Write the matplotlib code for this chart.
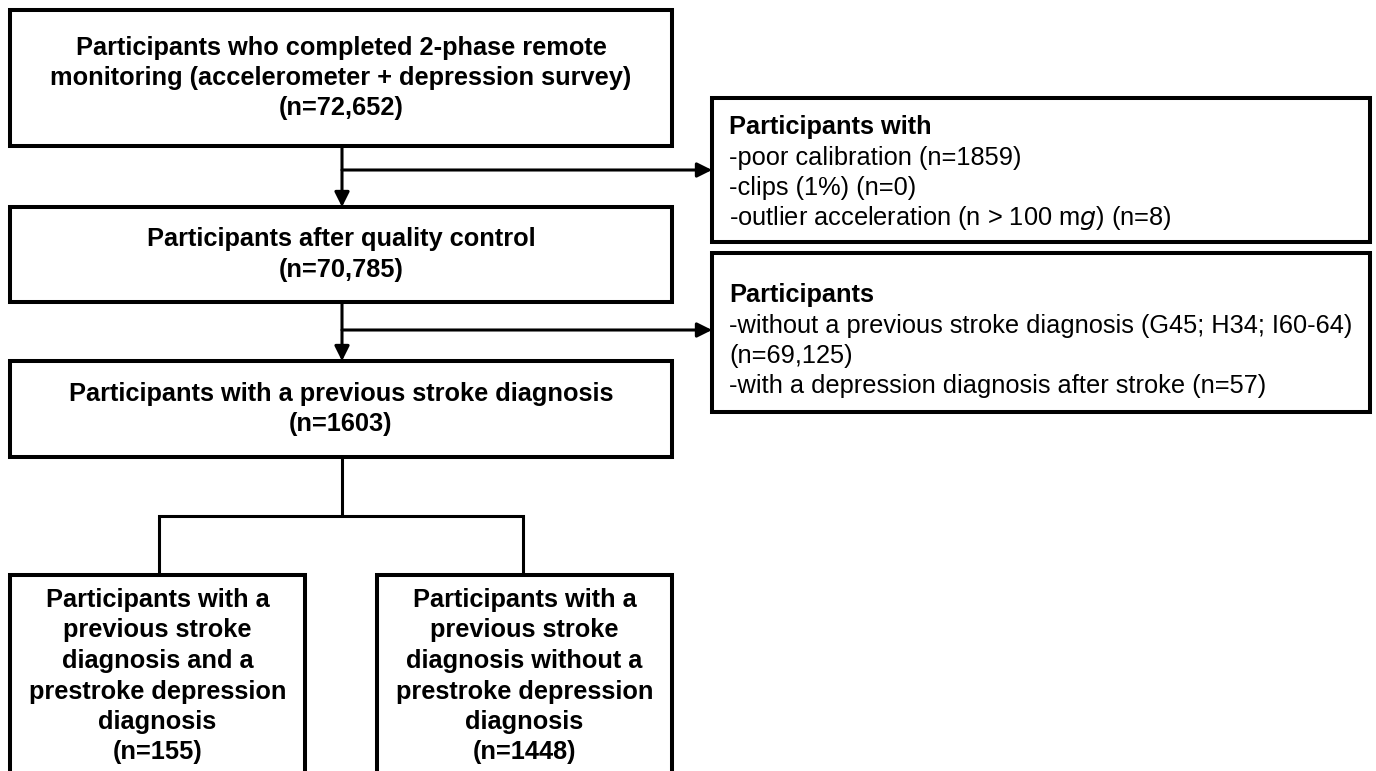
import matplotlib
matplotlib.use('Agg')
import matplotlib.pyplot as plt
from matplotlib.patches import Rectangle

plt.rcParams['font.family'] = ['Liberation Sans', 'DejaVu Sans']

# box texts (one entry per line)
start_lines = ['Participants who completed 2-phase remote',
               'monitoring (accelerometer + depression survey)',
               '(n=72,652)']
qc_lines = ['Participants after quality control', '(n=70,785)']
stroke_lines = ['Participants with a previous stroke diagnosis', '(n=1603)']
with_dep_lines = ['Participants with a', 'previous stroke', 'diagnosis and a',
                  'prestroke depression', 'diagnosis', '(n=155)']
without_dep_lines = ['Participants with a', 'previous stroke', 'diagnosis without a',
                     'prestroke depression', 'diagnosis', '(n=1448)']
excl1_title = 'Participants with'
excl1_lines = ['-poor calibration (n=1859)', '-clips (1%) (n=0)',
               '-outlier acceleration (n > 100 m$\\it{g}$) (n=8)']
excl2_title = 'Participants'
excl2_lines = ['-without a previous stroke diagnosis (G45; H34; I60-64)',
               '(n=69,125)', '-with a depression diagnosis after stroke (n=57)']

W, H = 1376, 771
fig = plt.figure(figsize=(W / 100, H / 100), dpi=100)
ax = fig.add_axes([0, 0, 1, 1])
ax.set_xlim(0, W)
ax.set_ylim(H, 0)
ax.axis('off')

FS = 18.3
STEP = 30.5
BOX_LW = 2.9
LINE_LW = 2.2


def box(x0, y0, x1, y1):
    ax.add_patch(Rectangle((x0, y0), x1 - x0, y1 - y0, fill=False,
                           edgecolor='black', lw=BOX_LW, joinstyle='miter'))


def open_box(x0, y0, x1):
    # box whose lower part is cut off by the image edge
    ax.plot([x0, x0, x1, x1], [H + 20, y0, y0, H + 20], color='black',
            lw=BOX_LW, solid_joinstyle='miter', solid_capstyle='butt')


def centered(lines, x0, x1, y_first):
    cx = (x0 + x1) / 2
    for i, s in enumerate(lines):
        ax.text(cx, y_first + i * STEP, s, ha='center', va='center',
                fontsize=FS, fontweight='bold')


def center_box(lines, x0, y0, x1, y1):
    box(x0, y0, x1, y1)
    y_first = (y0 + y1) / 2 - (len(lines) - 1) * STEP / 2
    centered(lines, x0, x1, y_first)


def left_box(title, lines, x0, y0, x1, y1, y_first):
    box(x0, y0, x1, y1)
    ax.text(x0 + 17, y_first, title, ha='left', va='center',
            fontsize=FS, fontweight='bold')
    for i, s in enumerate(lines):
        ax.text(x0 + 17, y_first + (i + 1) * STEP, s, ha='left', va='center',
                fontsize=FS)


def line(xs, ys):
    ax.plot(xs, ys, color='black', lw=LINE_LW, solid_capstyle='butt',
            solid_joinstyle='miter')


def arrow(x0, y0, x1, y1):
    ax.annotate('', xy=(x1, y1), xytext=(x0, y0),
                arrowprops=dict(arrowstyle='-|>', color='black', lw=LINE_LW,
                                mutation_scale=22, shrinkA=0, shrinkB=0))


center_box(start_lines, 10, 10, 672, 146)
center_box(qc_lines, 10, 207, 672, 302)
center_box(stroke_lines, 10, 361, 672, 457)

left_box(excl1_title, excl1_lines, 712, 98, 1370, 242, 127)
left_box(excl2_title, excl2_lines, 712, 253, 1370, 412, 295)

open_box(10, 575, 305)
open_box(377, 575, 672)
centered(with_dep_lines, 10, 305, 600)
centered(without_dep_lines, 377, 672, 600)

# connectors
arrow(342, 146, 342, 207)
arrow(342, 170, 712, 170)
arrow(342, 302, 342, 361)
arrow(342, 330, 712, 330)
line([342, 342], [457, 516])
line([159, 159, 523, 523], [575, 516, 516, 575])

fig.savefig('out.png', dpi=100)
